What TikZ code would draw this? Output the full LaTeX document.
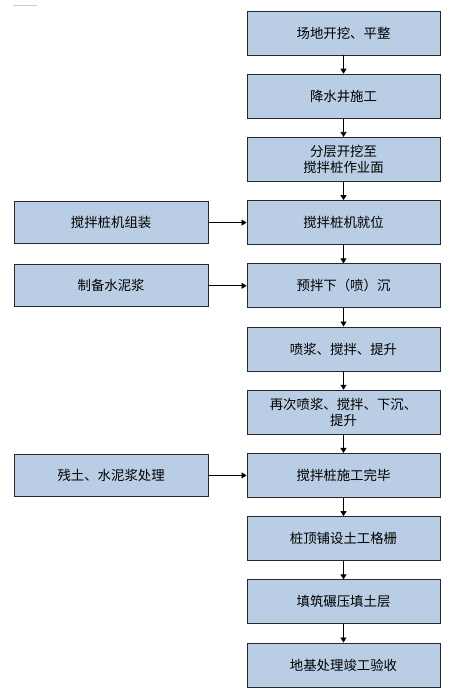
\documentclass[tikz,border=0pt]{standalone}
\usepackage{fontspec}
\newfontfamily\cjk{Noto Sans CJK SC}
\usepackage{color}
\definecolor{mylightblue}{RGB}{185,205,228}
\definecolor{myborder}{RGB}{40,40,40}
\usepackage{tikz}
\usetikzlibrary{arrows.meta,positioning,calc}
\tikzstyle{stepbox}=[draw=myborder,fill=mylightblue,rectangle,line width=0.9pt,minimum width=193pt,minimum height=44pt,inner sep=0pt,align=center,font=\cjk\fontsize{13.4}{16}\selectfont]
\tikzstyle{sidebox}=[stepbox,minimum width=194pt,minimum height=42pt]
\tikzstyle{flow}=[line width=0.8pt,-{Triangle[length=5pt,width=6pt]}]

\begin{document}
\begin{tikzpicture}[x=1pt,y=-1pt,node distance=18.3pt]
\useasboundingbox (0,0) rectangle (475,700);
\draw[gray!40,line width=1.2pt] (13,5.5) -- (37,5.5);
% main column
\node [stepbox] (b1) at (343.5,33) {场地开挖、平整};
\node [stepbox, below=of b1] (b2) {降水井施工};
\node [stepbox, below=of b2] (b3) {分层开挖至\\搅拌桩作业面};
\node [stepbox, below=of b3] (b4) {搅拌桩机就位};
\node [stepbox, below=of b4] (b5) {预拌下（喷）沉};
\node [stepbox, below=of b5] (b6) {喷浆、搅拌、提升};
\node [stepbox, below=of b6] (b7) {再次喷浆、搅拌、下沉、\\提升};
\node [stepbox, below=of b7] (b8) {搅拌桩施工完毕};
\node [stepbox, below=of b8] (b9) {桩顶铺设土工格栅};
\node [stepbox, below=of b9] (b10) {填筑碾压填土层};
\node [stepbox, below=of b10] (b11) {地基处理竣工验收};
% side column
\node [sidebox, left=38pt of b4] (s1) {搅拌桩机组装};
\node [sidebox, left=38pt of b5] (s2) {制备水泥浆};
\node [sidebox, left=38pt of b8] (s3) {残土、水泥浆处理};
\foreach \i [evaluate=\i as \j using int(\i+1)] in {1,...,10}
  \draw [flow] (b\i) -- (b\j);
\draw [flow] (s1) -- (b4);
\draw [flow] (s2) -- (b5);
\draw [flow] (s3) -- (b8);
\end{tikzpicture}
\end{document}
